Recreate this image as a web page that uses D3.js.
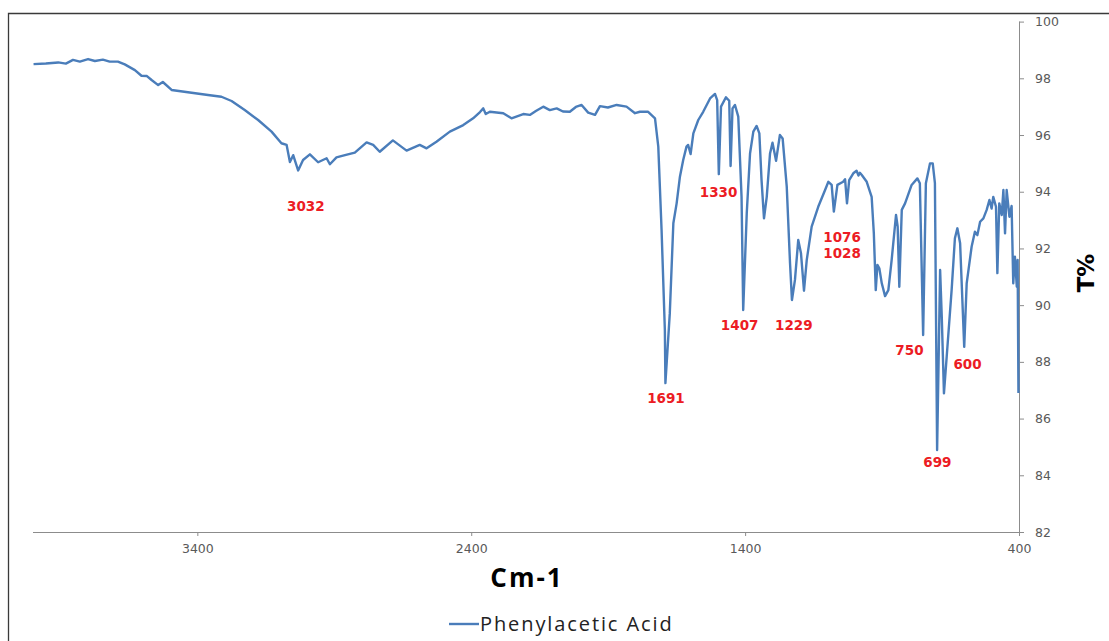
<!DOCTYPE html>
<html>
<head>
<meta charset="utf-8">
<script src="https://cdn.jsdelivr.net/npm/d3@7"></script>
<style>
  html, body { margin: 0; padding: 0; background: #fff; }
  svg { display: block; }
</style>
</head>
<body>
<svg id="chart" width="1109" height="641"></svg>
<script>
// FT-IR spectrum of phenylacetic acid: wavenumber (cm-1) vs transmittance (%)
const wavenumber = [
  3998, 3953, 3908, 3880, 3854, 3829, 3799, 3774, 3745, 3720,
  3690, 3665, 3628, 3604, 3584, 3567, 3543, 3526, 3494, 3421,
  3361, 3312, 3275, 3227, 3178, 3129, 3093, 3074, 3062, 3050,
  3032, 3014, 2989, 2959, 2928, 2916, 2892, 2861, 2825, 2782,
  2758, 2734, 2686, 2636, 2588, 2563, 2527, 2478, 2429, 2393,
  2368, 2356, 2347, 2332, 2283, 2253, 2210, 2186, 2164, 2137,
  2113, 2088, 2065, 2040, 2018, 1997, 1973, 1948, 1930, 1901,
  1869, 1833, 1802, 1784, 1754, 1729, 1717, 1705, 1693, 1691,
  1675, 1662, 1650, 1638, 1626, 1614, 1608, 1599, 1589, 1571,
  1553, 1528, 1510, 1502, 1496, 1488, 1470, 1458, 1453, 1446,
  1437, 1425, 1413, 1407, 1394, 1382, 1370, 1358, 1348, 1340,
  1331, 1321, 1309, 1300, 1287, 1273, 1263, 1248, 1236, 1229,
  1218, 1206, 1196, 1185, 1175, 1157, 1133, 1108, 1096, 1084,
  1076, 1063, 1042, 1035, 1028, 1020, 1005, 993, 986, 981,
  974, 956, 938, 930, 923, 917, 910, 901, 889, 877,
  865, 849, 843, 837, 828, 816, 792, 771, 762, 750,
  740, 725, 715, 707, 699, 688, 682, 674, 664, 646,
  634, 625, 615, 600, 591, 573, 561, 552, 542, 530,
  518, 508, 500, 494, 484, 479, 472, 463, 457, 451,
  445, 435, 427, 421, 415, 408, 405, 402
];
const transmittance = [
  98.50, 98.52, 98.56, 98.52, 98.65, 98.59, 98.68, 98.61, 98.66, 98.59,
  98.59, 98.49, 98.29, 98.09, 98.08, 97.94, 97.76, 97.87, 97.59, 97.49,
  97.41, 97.35, 97.20, 96.88, 96.53, 96.12, 95.71, 95.65, 95.05, 95.29,
  94.75, 95.12, 95.32, 95.04, 95.18, 94.97, 95.21, 95.29, 95.38, 95.74,
  95.65, 95.41, 95.81, 95.45, 95.65, 95.53, 95.76, 96.12, 96.35, 96.59,
  96.81, 96.94, 96.74, 96.82, 96.77, 96.59, 96.74, 96.71, 96.85, 97.00,
  96.88, 96.94, 96.83, 96.82, 96.99, 97.06, 96.79, 96.71, 97.02, 96.97,
  97.06, 97.00, 96.77, 96.82, 96.82, 96.59, 95.59, 92.65, 89.12, 87.25,
  89.71, 92.89, 93.59, 94.53, 95.12, 95.59, 95.65, 95.33, 96.06, 96.53,
  96.82, 97.29, 97.45, 97.23, 94.62, 97.00, 97.33, 97.21, 94.91, 96.94,
  97.06, 96.65, 93.82, 89.83, 93.24, 95.35, 96.12, 96.32, 96.06, 94.41,
  93.06, 93.82, 95.35, 95.73, 95.09, 96.00, 95.88, 94.18, 91.48, 90.18,
  90.89, 92.30, 91.83, 90.51, 91.59, 92.77, 93.47, 94.06, 94.35, 94.24,
  93.30, 94.24, 94.35, 94.44, 93.59, 94.41, 94.65, 94.74, 94.57, 94.67,
  94.59, 94.35, 93.82, 92.53, 90.53, 91.42, 91.30, 90.77, 90.32, 90.53,
  91.59, 93.18, 92.77, 90.65, 93.36, 93.59, 94.24, 94.47, 94.30, 88.95,
  94.30, 95.00, 95.00, 94.30, 84.89, 91.24, 89.59, 86.89, 88.18, 90.53,
  92.36, 92.71, 92.18, 88.53, 90.77, 92.06, 92.59, 92.47, 92.94, 93.06,
  93.36, 93.71, 93.41, 93.82, 93.47, 91.13, 93.59, 93.18, 94.06, 92.53,
  94.06, 93.12, 93.50, 90.77, 91.71, 90.65, 91.59, 86.90
];

// Axis ticks
const xTicks = [3400, 2400, 1400, 400];
const yTicks = [82, 84, 86, 88, 90, 92, 94, 96, 98, 100];

// Band annotations: text and where each one sits (wavenumber, T%)
const peakText = ["3032", "1330", "1691", "1407", "1229", "1076", "1028", "750", "600", "699"];
const peakAtWavenumber = [3004, 1497, 1689, 1420, 1222, 1046, 1046, 800, 588, 698];
const peakAtT = [93.48, 94.00, 86.72, 89.30, 89.30, 92.40, 91.83, 88.42, 87.92, 84.48];

const seriesName = "Phenylacetic Acid";
const xTitle = "Cm-1";
const yTitle = "T%";

const svg = d3.select("#chart");

// chart frame
svg.append("path")
  .attr("d", "M8.5,650 V13.5 H1120")
  .attr("fill", "none")
  .attr("stroke", "#3a3a3a")
  .attr("stroke-width", 1.3);

const x = d3.scaleLinear().domain([4000, 400]).range([33, 1019]);
const y = d3.scaleLinear().domain([82, 100]).range([532, 21.6]);

const tickFont = "'DejaVu Sans', Verdana, sans-serif";

// x axis (bottom)
const gx = svg.append("g").attr("transform", `translate(0,${y(82)})`)
  .call(d3.axisBottom(x).tickValues(xTicks).tickSize(4).tickPadding(8).tickFormat(d3.format("d")));
gx.select(".domain").attr("stroke", "#8c8c8c").attr("d", `M${x(4000)},0.5H${x(400)}`);
gx.selectAll(".tick line").attr("stroke", "#8c8c8c");
gx.selectAll(".tick text")
  .attr("fill", "#595959")
  .style("font-family", tickFont)
  .style("font-size", "12.5px");

// y axis on the right
const gy = svg.append("g").attr("transform", `translate(${x(400)},0)`)
  .call(d3.axisRight(y).tickValues(yTicks).tickSize(5).tickPadding(11).tickFormat(d3.format("d")));
gy.select(".domain").attr("stroke", "#8c8c8c").attr("d", `M0.5,${y(100)}V${y(82) + 4}`);
gy.selectAll(".tick line").attr("stroke", "#8c8c8c");
gy.selectAll(".tick text")
  .attr("fill", "#595959")
  .style("font-family", tickFont)
  .style("font-size", "12.5px");

// spectrum line
const pts = wavenumber.map((w, i) => [w, transmittance[i]]);
svg.append("path")
  .datum(pts)
  .attr("fill", "none")
  .attr("stroke", "#4a7dba")
  .attr("stroke-width", 2.4)
  .attr("stroke-linejoin", "round")
  .attr("d", d3.line().x(d => x(d[0])).y(d => y(d[1])));

// band labels
svg.append("g").selectAll("text")
  .data(peakText)
  .join("text")
  .attr("x", (d, i) => x(peakAtWavenumber[i]))
  .attr("y", (d, i) => y(peakAtT[i]))
  .attr("dy", "0.36em")
  .attr("text-anchor", "middle")
  .attr("fill", "#ec1c24")
  .style("font-family", "'DejaVu Sans', Verdana, sans-serif")
  .style("font-weight", "bold")
  .style("font-size", "13.5px")
  .text(d => d);

// axis titles
svg.append("text")
  .attr("x", 527).attr("y", 578).attr("dy", "0.36em")
  .attr("text-anchor", "middle")
  .style("font-family", "'Open Sans', 'DejaVu Sans', sans-serif")
  .style("font-weight", "bold")
  .style("font-size", "26px")
  .style("letter-spacing", "2px")
  .attr("fill", "#000")
  .text(xTitle);

svg.append("text")
  .attr("transform", "translate(1086,273) rotate(-90)")
  .attr("dy", "0.36em")
  .attr("text-anchor", "middle")
  .style("font-family", "'DejaVu Sans', sans-serif")
  .style("font-weight", "bold")
  .style("font-size", "23px")
  .attr("fill", "#000")
  .text(yTitle);

// legend
const lg = svg.append("g").attr("transform", "translate(449,624)");
lg.append("line").attr("x1", 0).attr("x2", 30).attr("y1", 0).attr("y2", 0)
  .attr("stroke", "#4a7dba").attr("stroke-width", 2.4);
lg.append("text").attr("x", 31).attr("dy", "0.36em")
  .style("font-family", "'Open Sans', 'DejaVu Sans', sans-serif")
  .style("font-size", "20px")
  .style("letter-spacing", "1.9px")
  .attr("fill", "#222")
  .text(seriesName);
</script>
</body>
</html>
